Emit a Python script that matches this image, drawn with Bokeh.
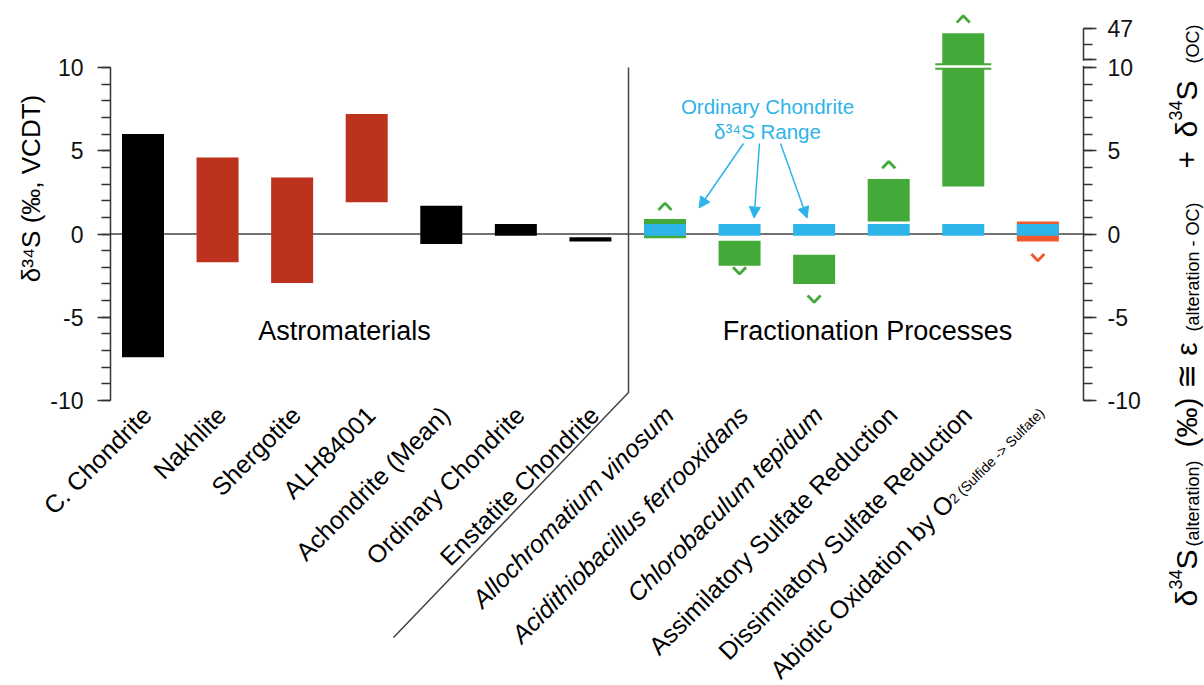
import numpy as np
from bokeh.plotting import figure
from bokeh.models import (Range1d, LinearAxis, FixedTicker, CustomJSTickFormatter,
                          ColumnDataSource, Label, Span, Arrow, NormalHead)
from bokeh.embed import file_html
from bokeh.resources import INLINE
from bokeh.core.properties import value

# ---------------- data ----------------
categories = ["C. Chondrite", "Nakhlite", "Shergotite", "ALH84001", "Achondrite (Mean)",
              "Ordinary Chondrite", "Enstatite Chondrite",
              "Allochromatium vinosum", "Acidithiobacillus ferrooxidans", "Chlorobaculum tepidum",
              "Assimilatory Sulfate Reduction", "Dissimilatory Sulfate Reduction",
              "Abiotic Oxidation by O2"]
kind = ["chondrite", "mars", "mars", "mars", "chondrite", "chondrite", "chondrite",
        "bio", "bio", "bio", "bio", "bio", "abiotic"]
italic = [False] * 7 + [True, True, True, False, False, False]
low = [-7.4, -1.7, -2.95, 1.9, -0.6, -0.1, -0.45, -0.25, -1.9, -3.0, 0.75, 2.85, -0.45]
high = [6.0, 4.6, 3.4, 7.2, 1.7, 0.6, -0.2, 0.9, -0.4, -1.25, 3.3, 46.7, 0.75]
processes = categories[7:]
extend_dir = ["up", "down", "down", "up", "up", "down"]
extend_at = [1.65, -2.2, -3.9, 4.15, 47.6, -1.4]
main_ticks = [-10, -5, 0, 5, 10]
upper_ticks = [45, 46, 47]
group_titles = ["Astromaterials", "Fractionation Processes"]
oc_note = ["Ordinary Chondrite", "δ³⁴S Range"]
oc_targets = ["Allochromatium vinosum", "Acidithiobacillus ferrooxidans", "Chlorobaculum tepidum"]

COLORS = {"chondrite": "#000000", "mars": "#BD321D", "bio": "#43A938", "abiotic": "#EE5A2C"}
BLUE = "#2DB4E8"
AXC = "#333333"
FONT = "Liberation Sans"

# ---------------- layout ----------------
W, H = 1204, 684
FL, FR, FT, FB = 110, 1083, 12, 400
NC = len(categories)
C0, S = 142.5, 74.57          # page x of first category centre, px per category
XS = -(C0 - FL) / S
XE = (FR - C0) / S
K = 16.65                     # px per permil
Y0 = -10
Y1 = Y0 + (FB - FT) / K
UP_BASE = 10.48               # plotted position of first tick above the axis break
UP_STEP = 0.931               # plotted units per permil above the break
BREAK_Y = 10.06
BAR_W = 42 / S
LAB_DX, LAB_Y = 4, 410        # end of rotated category labels (offset from bar centre, page y)
D45 = 0.7071


def to_plot(v):
    return v if v <= 10 else UP_BASE + (v - upper_ticks[0]) * UP_STEP


def sx(px):
    return XS + (px - FL) / S


def sy(py):
    return Y0 + (FB - py) / K


pos = list(range(NC))


def cx(cat):
    return pos[categories.index(cat)]


p = figure(width=W, height=H, x_range=Range1d(XS, XE), y_range=Range1d(Y0, Y1),
           output_backend="svg", toolbar_location=None, x_axis_location=None,
           min_border_left=FL, min_border_right=W - FR, min_border_top=FT, min_border_bottom=H - FB)
p.outline_line_color = None
p.grid.visible = False
p.background_fill_color = "white"
p.border_fill_color = "white"

# zero line
p.add_layout(Span(location=0, dimension="width", line_color="#444444", line_width=1.5, level="underlay"))

# bars
src = ColumnDataSource(dict(x=pos, name=categories, bottom=[to_plot(v) for v in low],
                            top=[to_plot(v) for v in high], color=[COLORS[k] for k in kind]))
p.vbar(x="x", bottom="bottom", top="top", width=BAR_W, fill_color="color", line_color=None, source=src)

# ordinary chondrite range on each process
i_oc = categories.index("Ordinary Chondrite")
oc_low, oc_high = low[i_oc], high[i_oc]
p.vbar(x=[cx(c) for c in processes], bottom=oc_low, top=oc_high, width=BAR_W, fill_color=BLUE,
       line_color=None)

# axis break symbol on the dissimilatory bar
bx = cx("Dissimilatory Sulfate Reduction")
p.rect(x=[bx], y=[BREAK_Y], width=BAR_W + 14 / S, height=6.5 / K, fill_color=COLORS["bio"], line_color=None)
p.rect(x=[bx], y=[BREAK_Y], width=BAR_W + 16 / S, height=2.6 / K, fill_color="white", line_color=None)

# chevrons showing ranges that continue
hw, hh = 6.5 / S, 3.4 / K
cxs, cys, ccol = [], [], []
for cat, d, v in zip(processes, extend_dir, extend_at):
    c = cx(cat)
    yv = to_plot(v)
    sg = 1 if d == "up" else -1
    cxs.append([c - hw, c, c + hw])
    cys.append([yv - sg * hh, yv + sg * hh, yv - sg * hh])
    ccol.append(COLORS[kind[categories.index(cat)]])
p.multi_line(xs="xs", ys="ys", line_color="c", line_width=2.8,
             source=ColumnDataSource(dict(xs=cxs, ys=cys, c=ccol)))

# divider line
p.line(x=[sx(628), sx(628), sx(393)], y=[10, sy(392), sy(637)], line_color="#444444",
       line_width=1.5, level="overlay")

# axes
ya = p.yaxis[0]
ya.bounds = (-10, 10)
ya.ticker = FixedTicker(ticks=main_ticks, minor_ticks=list(range(-10, 11)))
ya.formatter = CustomJSTickFormatter(code="return tick.toFixed(0);")
ya.major_label_standoff = 14

up_pl = [to_plot(v) for v in upper_ticks]
ra = LinearAxis(bounds=(-10, up_pl[-1]),
                ticker=FixedTicker(ticks=main_ticks + [up_pl[0], up_pl[-1]],
                                   minor_ticks=list(range(-10, 11)) + up_pl),
                formatter=CustomJSTickFormatter(
                    args=dict(base=UP_BASE, step=UP_STEP, first=upper_ticks[0], top=upper_ticks[-1]),
                    code="""
if (tick > 10.001) {
  const v = Math.round(first + (tick - base) / step);
  return v == top ? String(v) : "";
}
return tick.toFixed(0);
"""))
ra.major_label_standoff = 11
p.add_layout(ra, "right")

for ax in (ya, ra):
    ax.axis_line_width = 1.5
    ax.axis_line_color = AXC
    ax.major_tick_line_width = 1.5
    ax.major_tick_line_color = AXC
    ax.minor_tick_line_width = 1.5
    ax.minor_tick_line_color = AXC
    ax.major_tick_out = 13
    ax.major_tick_in = 0
    ax.minor_tick_out = 9
    ax.minor_tick_in = 0
    ax.major_label_text_font = FONT
    ax.major_label_text_font_size = "23px"
    ax.major_label_text_color = "#111111"

# gap in the right axis line at the break
p.segment(x0=[XE], y0=[10.1], x1=[XE], y1=[UP_BASE - 0.08], line_color="white", line_width=5,
          level="overlay")

# category labels (text glyphs drawn at overlay level so they may sit outside the frame)
ylab = sy(LAB_Y)
for flag, style in ((False, "normal"), (True, "italic")):
    idx = [i for i in range(NC) if italic[i] == flag and categories[i] != "Abiotic Oxidation by O2"]
    ls = ColumnDataSource(dict(x=[pos[i] for i in idx], y=[ylab] * len(idx),
                               text=[categories[i] for i in idx]))
    p.text(x="x", y="y", text="text", source=ls, angle=np.pi / 4, text_align="right",
           text_baseline="middle", x_offset=LAB_DX, text_font=value(FONT), text_font_size="25px",
           text_font_style=style, text_color="black", level="overlay")

# abiotic label with subscript
c_ab = cx("Abiotic Oxidation by O2")
sub_w = 128.0
p.text(x=[c_ab + LAB_DX / S], y=[ylab], text=["2 (Sulfide -> Sulfate)"], angle=np.pi / 4,
       text_align="right", text_baseline="middle", text_font=value(FONT), text_font_size="14px",
       text_color="black", level="overlay")
mdx, mdy = LAB_DX - 2 - sub_w * D45, LAB_Y - 2 + sub_w * D45
p.text(x=[c_ab + mdx / S], y=[sy(mdy)], text=["Abiotic Oxidation by O"], angle=np.pi / 4,
       text_align="right", text_baseline="middle", text_font=value(FONT), text_font_size="25px",
       text_color="black", level="overlay")

# group titles
for t, px in zip(group_titles, (344, 867)):
    p.add_layout(Label(x=sx(px), y=sy(330), text=t, text_align="center", text_baseline="middle",
                       text_font=FONT, text_font_size="27px", text_color="black"))

# ordinary chondrite note and arrows
for t, py in zip(oc_note, (106, 131)):
    p.add_layout(Label(x=sx(767), y=sy(py), text=t, text_align="center", text_baseline="middle",
                       text_font=FONT, text_font_size="20.5px", text_color=BLUE))
arrow_start_dx = [-24, -8, 13]
arrow_end = [(34, 1.56), (14.5, 0.96), (-7, 0.96)]
for cat, dx0, (dx1, y1) in zip(oc_targets, arrow_start_dx, arrow_end):
    p.add_layout(Arrow(end=NormalHead(size=11, fill_color=BLUE, line_color=BLUE, line_width=1),
                       x_start=sx(767 + dx0), y_start=sy(143), x_end=cx(cat) + dx1 / S, y_end=y1,
                       line_color=BLUE, line_width=1.5))

# left axis title
p.text(x=[sx(30)], y=[sy(188)], text=["δ³⁴S (‰, VCDT)"], angle=np.pi / 2, text_align="center",
       text_baseline="middle", text_font=value(FONT), text_font_size="26px", text_color="black",
       level="overlay")

# right axis title made of pieces with super- and subscripts
MAIN_X, SUP_X, SUB_X = 1186, 1175, 1192
pieces = [("δ", 606, "main"), ("34", 589, "sup"), ("S", 569, "main"), ("(alteration)", 546, "sub"),
          ("(‰) ≅ ε", 447, "main"), ("(alteration - OC)", 331, "sub"), ("+", 168, "main"),
          ("δ", 137, "main"), ("34", 120, "sup"), ("S", 100, "main"), ("(OC)", 63, "sub")]
for t, py, role in pieces:
    xpx = {"main": MAIN_X, "sup": SUP_X, "sub": SUB_X}[role]
    fs = {"main": "30px", "sup": "18px", "sub": "18px"}[role]
    p.text(x=[sx(xpx)], y=[sy(py)], text=[t], angle=np.pi / 2,
           text_align="left", text_baseline="alphabetic", text_font=value(FONT),
           text_font_size=fs, text_color="black", level="overlay")

open("out.html", "w").write(file_html(p, INLINE))
